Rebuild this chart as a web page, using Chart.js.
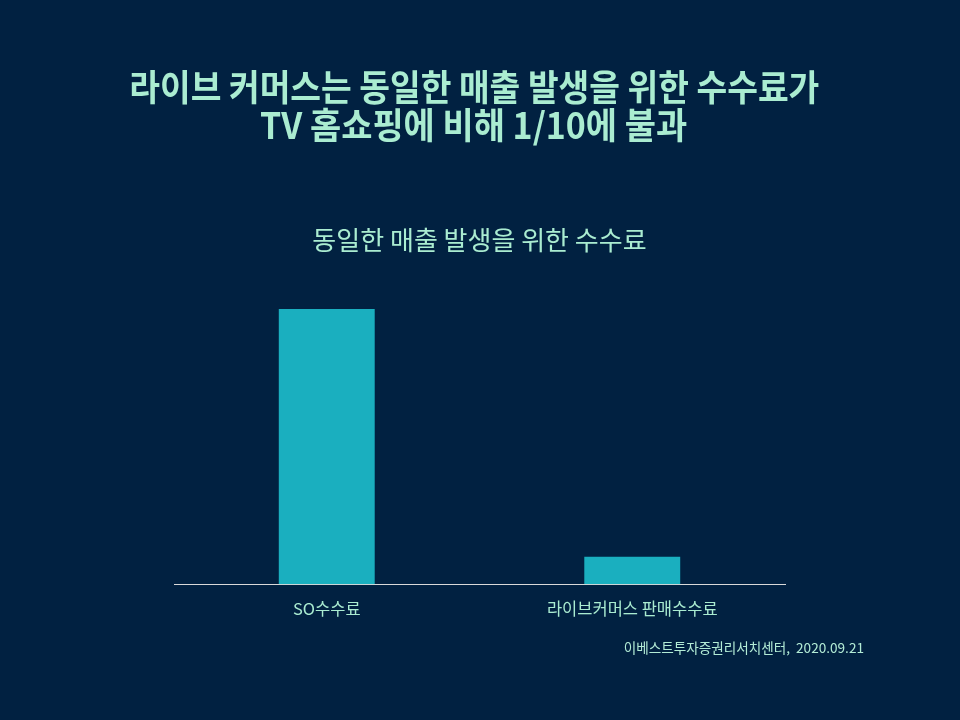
<!DOCTYPE html>
<html>
<head>
<meta charset="utf-8">
<script src="https://cdn.jsdelivr.net/npm/chart.js@4"></script>
<style>
  html, body { margin:0; padding:0; background:#012141; }
  #wrap { position:relative; width:960px; height:720px; }
  #title { position:absolute; left:-6px; top:66px; width:960px; text-align:center; font-family:"Noto Sans CJK KR", sans-serif; font-weight:bold; font-size:36px; line-height:38px; color:#aaecd1; }
  #title span { display:inline-block; white-space:pre; transform-origin:50% 50%; }
  #source { position:absolute; right:96px; top:637px; font-family:"Noto Sans CJK KR", sans-serif; font-size:13.6px; line-height:20px; color:#b3ecd6; white-space:pre; }
</style>
</head>
<body>
<div id="wrap">
  <canvas id="c" width="960" height="720"></canvas>
  <div id="title"></div>
  <div id="source">이베스트투자증권리서치센터,  2020.09.21</div>
</div>
<script>
const titleLines = ["라이브 커머스는 동일한 매출 발생을 위한 수수료가", "TV 홈쇼핑에 비해 1/10에 불과"];
const subtitleText = "동일한 매출 발생을 위한 수수료";
const categories = ["SO수수료", "라이브커머스 판매수수료"];
const feeValues = [100, 10];

// Title: real text, each line stretched to the reference's line width
const titleWidths = [690, 427];
const titleEl = document.getElementById("title");
titleLines.forEach((t, i) => {
  const row = document.createElement("div");
  const span = document.createElement("span");
  span.textContent = t;
  row.appendChild(span);
  titleEl.appendChild(row);
  const w = span.getBoundingClientRect().width;
  if (w > 0) span.style.transform = "scaleX(" + (titleWidths[i] / w) + ")";
});

const mint = "#aaecd1";
new Chart(document.getElementById("c"), {
  type: "bar",
  data: {
    labels: categories,
    datasets: [{
      label: subtitleText,
      data: feeValues,
      backgroundColor: "#1aafbf",
      categoryPercentage: 1,
      barPercentage: 0.314
    }]
  },
  options: {
    responsive: false,
    animation: false,
    layout: { padding: { left: 174, right: 175, top: 0, bottom: 86 } },
    plugins: {
      legend: { display: false },
      tooltip: { enabled: false },
      title: { display: false },
      subtitle: {
        display: true,
        text: subtitleText,
        color: mint,
        font: { family: "'Noto Sans CJK KR', sans-serif", size: 26, weight: "normal", lineHeight: 1.0 },
        padding: { top: 227, bottom: 56 }
      }
    },
    scales: {
      x: {
        grid: { display: false, drawTicks: false },
        border: { display: true, color: "#d9d9d9", width: 1 },
        ticks: { color: mint, padding: 15, font: { family: "'Noto Sans CJK KR', sans-serif", size: 16.5, lineHeight: 1.2 } }
      },
      y: {
        display: false,
        min: 0,
        max: 100
      }
    }
  }
});
</script>
</body>
</html>
